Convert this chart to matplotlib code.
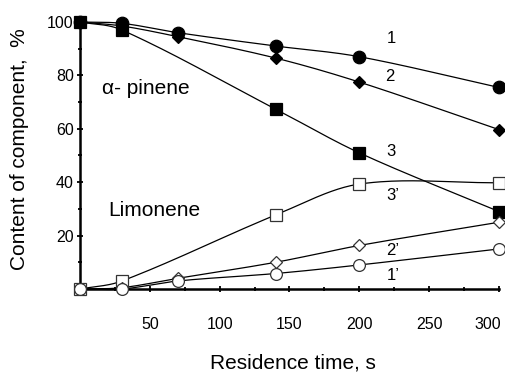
import numpy as np
import matplotlib
matplotlib.use('Agg')
import matplotlib.pyplot as plt
import matplotlib.transforms as mtransforms

plt.rcParams['font.family'] = ['Liberation Sans', 'DejaVu Sans']

# данные
x_pin = [0, 30, 70, 140, 200, 300]
pinene_1 = [100, 99.5, 96, 91, 87, 75.5]
pinene_2 = [100, 98.5, 94.5, 86.5, 77.5, 59.7]
x_pin3 = [0, 30, 140, 200, 300]
pinene_3 = [100, 97, 67.4, 51, 29]

x_lim3 = [0, 30, 140, 200, 300]
limonene_3 = [0, 3, 27.7, 39.3, 39.8]
x_lim = [0, 30, 70, 140, 200, 300]
limonene_2 = [0, 0.5, 4, 10, 16.3, 25]
limonene_1 = [0, 0, 3, 5.8, 9, 15]

curve_labels = ['1', '2', '3', "3\u2019", "2\u2019", "1\u2019"]
label_xy = [(223, 94), (222, 79.5), (223, 51.5), (224, 35), (224, 14.5), (224, 5.2)]


def smooth(xs, ys, n=40):
    # кубическая эрмитова кривая с наклонами по соседним точкам
    xs = np.asarray(xs, float)
    ys = np.asarray(ys, float)
    k = len(xs)
    m = np.zeros(k)
    m[0] = (ys[1] - ys[0]) / (xs[1] - xs[0])
    m[-1] = (ys[-1] - ys[-2]) / (xs[-1] - xs[-2])
    for i in range(1, k - 1):
        m[i] = (ys[i + 1] - ys[i - 1]) / (xs[i + 1] - xs[i - 1])
    ox, oy = [], []
    for i in range(k - 1):
        h = xs[i + 1] - xs[i]
        t = np.linspace(0, 1, n)
        h00 = 2 * t**3 - 3 * t**2 + 1
        h10 = t**3 - 2 * t**2 + t
        h01 = -2 * t**3 + 3 * t**2
        h11 = t**3 - t**2
        ox.append(xs[i] + t * h)
        oy.append(h00 * ys[i] + h10 * h * m[i] + h01 * ys[i + 1] + h11 * h * m[i + 1])
    return np.concatenate(ox), np.concatenate(oy)


fig = plt.figure(figsize=(5.05, 3.72), dpi=100)
ax = fig.add_axes([0.1584, 0.2231, 0.8296, 0.7178])

series = [
    (x_pin, pinene_1, 'o', 'black', 'black', 9),
    (x_pin, pinene_2, 'D', 'black', 'black', 6.5),
    (x_pin3, pinene_3, 's', 'black', 'black', 8.5),
    (x_lim3, limonene_3, 's', 'white', '#333333', 8.5),
    (x_lim, limonene_2, 'D', 'white', '#333333', 6.5),
    (x_lim, limonene_1, 'o', 'white', '#333333', 8.5),
]

for xs, ys, m, fc, ec, ms in series:
    sx, sy = smooth(xs, ys)
    ax.plot(sx, sy, color='black', lw=0.9, clip_on=False, zorder=2)
    ax.plot(xs, ys, linestyle='none', marker=m, markersize=ms,
            markerfacecolor=fc, markeredgecolor=ec, markeredgewidth=0.9,
            clip_on=False, zorder=3)

for lab, (lx, ly) in zip(curve_labels, label_xy):
    ax.text(lx, ly, lab, fontsize=12, ha='center', va='center')

ax.text(16, 75, '\u03b1- pinene', fontsize=15, ha='left', va='center')
ax.text(20, 29.5, 'Limonene', fontsize=15, ha='left', va='center')

ax.set_xlim(0, 300)
ax.set_ylim(0, 100)
ax.set_xticks([50, 100, 150, 200, 250, 300])
ax.set_xticks([25, 75, 125, 175, 225, 275], minor=True)
ax.set_yticks([20, 40, 60, 80, 100])
ax.set_yticks([10, 30, 50, 70, 90], minor=True)
ax.tick_params(axis='both', which='major', labelsize=11.5, width=1.3, length=5,
               direction='inout')
ax.tick_params(axis='both', which='minor', width=1.3, length=3, direction='inout')
ax.tick_params(axis='x', pad=18)
ax.tick_params(axis='y', pad=2)

# подпись 300 сдвинута влево, как в оригинале
last = ax.get_xticklabels()[-1]
last.set_transform(last.get_transform() +
                   mtransforms.ScaledTranslation(-0.11, 0, fig.dpi_scale_trans))

for s in ['top', 'right']:
    ax.spines[s].set_visible(False)
for s in ['left', 'bottom']:
    ax.spines[s].set_linewidth(1.8)

fig.text(0.58, 0.025, 'Residence time, s', fontsize=15, ha='center', va='center')
fig.text(0.038, 0.60, 'Content of component,  %', fontsize=15, ha='center',
         va='center', rotation=90)

fig.savefig('out.png', dpi=100)
